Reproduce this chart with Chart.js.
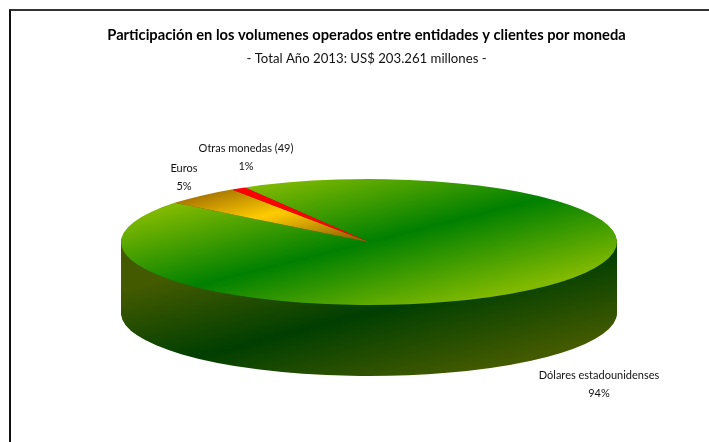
<!DOCTYPE html>
<html>
<head>
<meta charset="utf-8">
<script src="https://cdn.jsdelivr.net/npm/chart.js@4"></script>
<style>
html, body { margin: 0; padding: 0; background: #fff; overflow: hidden; }
#marco { position: absolute; left: 9px; top: 9px; right: 0; bottom: 0; border-top: 2px solid #333; border-left: 2px solid #111; }
#lienzo { position: absolute; left: 0; top: 0; width: 709px; height: 442px; }
</style>
</head>
<body>
<div id="marco"></div>
<div id="lienzo"><canvas id="torta"></canvas></div>
<script>
const titulo = 'Participación en los volumenes operados entre entidades y clientes por moneda';
const subtitulo = '- Total Año 2013: US$ 203.261 millones -';
const categorias = ['Dólares estadounidenses', 'Euros', 'Otras monedas (49)'];
const valores = [94, 5, 1];
const coloresBase = ['#008000', '#FFCC00', '#FF0000'];

// posicion de las etiquetas (centro de cada texto, en pixeles)
const etiquetasX = [599, 184, 246];
const etiquetasY = [375, 168, 148];

// la torta "3D": elipse y profundidad en pantalla
const centroX = 369, centroY = 242, radioX = 248, radioY = 63, profundidad = 71;

// degradado a 45 grados sobre el circulo sin aplastar
function degradado(ctx, arc, centro, ancho, colores, desplazarY) {
    let R = arc.outerRadius;
    let mx = arc.x + centro * R * Math.SQRT1_2;
    let my = arc.y + centro * R * Math.SQRT1_2 + (desplazarY || 0);
    let d = ancho * R * Math.SQRT1_2;
    let g = ctx.createLinearGradient(mx - d, my - d, mx + d, my + d);
    g.addColorStop(0, colores[0]);
    g.addColorStop(0.5, colores[1]);
    g.addColorStop(1, colores[2]);
    return g;
}

const torta3D = {
    id: 'torta3D',
    beforeDatasetsDraw(chart) {
        let ctx = chart.ctx;
        let arcos = chart.getDatasetMeta(0).data;
        let a0 = arcos[0];
        let sx = radioX / a0.outerRadius;
        let sy = radioY / a0.outerRadius;

        ctx.save();
        ctx.translate(centroX, centroY);
        ctx.scale(sx, sy);
        ctx.translate(-a0.x, -a0.y);

        // pared lateral: capas de abajo hacia arriba, con el degradado quieto
        for (let capa = profundidad; capa >= 1; capa--) {
            let dy = capa / sy;
            let g = degradado(ctx, a0, 0, 0.95, ['#435A00', '#003F00', '#435A00'], profundidad / sy - dy);
            ctx.save();
            ctx.translate(0, dy);
            arcos.forEach(arc => {
                let guardadas = arc.options;
                arc.options = Object.assign({}, guardadas, { backgroundColor: g });
                arc.draw(ctx);
                arc.options = guardadas;
            });
            ctx.restore();
        }

        // cara superior
        let caras = [
            degradado(ctx, a0, 0, 0.95, ['#80B900', '#008000', '#80B900']),
            degradado(ctx, a0, -0.59, 0.5, ['#996600', '#FFCC00', '#996600']),
            '#FF0000'
        ];
        arcos.forEach((arc, i) => {
            arc.options = Object.assign({}, arc.options, { backgroundColor: caras[i] });
        });
    },
    afterDatasetsDraw(chart) {
        chart.ctx.restore();
    },
    afterDraw(chart) {
        let ctx = chart.ctx;
        ctx.save();
        ctx.fillStyle = '#111';
        ctx.font = '11px Lato';
        ctx.textAlign = 'center';
        ctx.textBaseline = 'middle';
        categorias.forEach((nombre, i) => {
            ctx.fillText(nombre, etiquetasX[i], etiquetasY[i]);
            ctx.fillText(valores[i] + '%', etiquetasX[i], etiquetasY[i] + 18);
        });
        ctx.restore();
    }
};

new Chart(document.getElementById('torta'), {
    type: 'pie',
    data: {
        labels: categorias,
        datasets: [{
            data: valores,
            backgroundColor: coloresBase,
            borderWidth: 0,
            clip: false
        }]
    },
    options: {
        responsive: true,
        maintainAspectRatio: false,
        animation: false,
        rotation: -30,
        layout: { padding: { left: 24, top: 0, right: 0, bottom: 0 } },
        plugins: {
            legend: { display: false },
            tooltip: { enabled: false },
            title: {
                display: true,
                text: titulo,
                color: '#000',
                font: { family: 'Lato', size: 14.7, weight: 'bold' },
                padding: { top: 26, bottom: 7 }
            },
            subtitle: {
                display: true,
                text: subtitulo,
                color: '#111',
                font: { family: 'Lato', size: 13.2 },
                padding: { bottom: 10 }
            }
        }
    },
    plugins: [torta3D]
});
</script>
</body>
</html>
